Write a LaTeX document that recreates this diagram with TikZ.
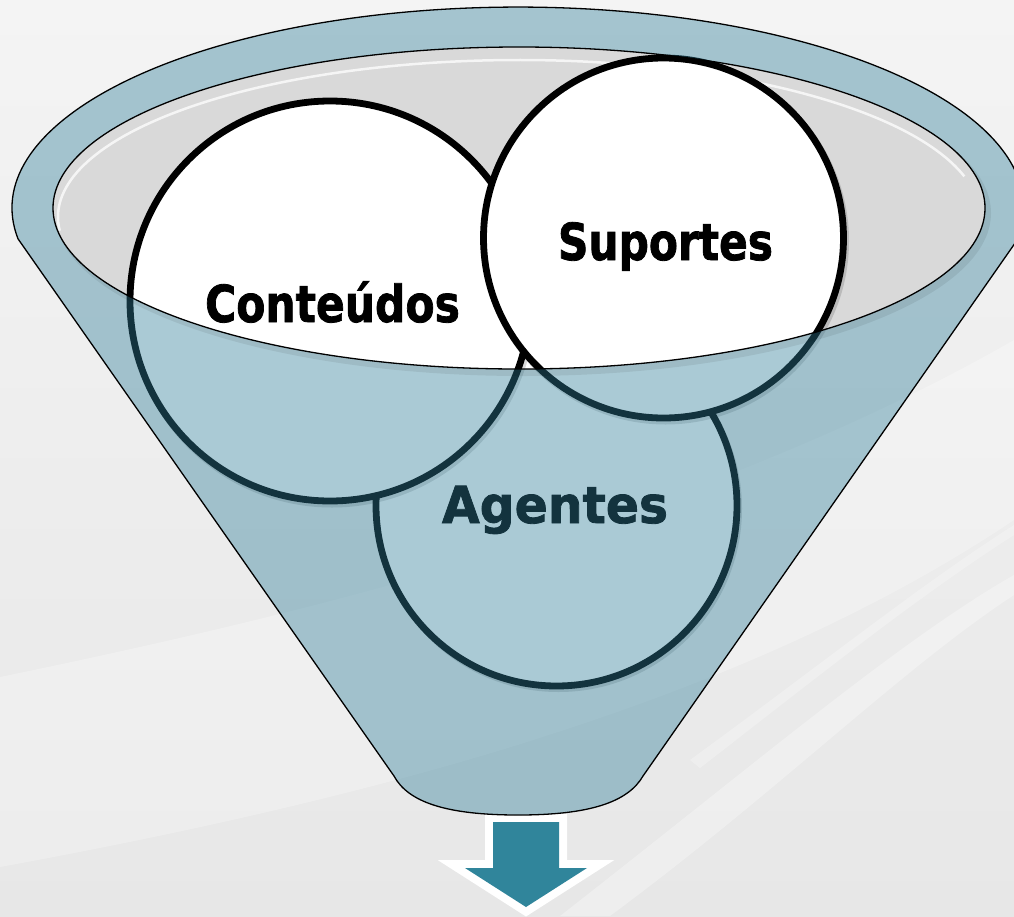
\documentclass[tikz,border=0pt]{standalone}
\usepackage{fontspec}
\usepackage{graphicx}
\newfontfamily\lblfont{DejaVu Sans}[BoldFeatures={FakeBold=1.6}]
\definecolor{funnelc}{RGB}{49,127,154}
\definecolor{arrowc}{RGB}{48,133,155}
\definecolor{innerg}{RGB}{217,217,217}
\definecolor{bgtop}{RGB}{244,244,244}
\definecolor{bgbot}{RGB}{231,231,231}
\tikzset{
  circ/.style={circle, draw=black, line width=6.8pt, fill=white, inner sep=0pt},
  circshadow/.style={draw=black, draw opacity=0.14, line width=7pt},
  lbl/.style={font=\lblfont\bfseries\fontsize{51}{60}\selectfont, anchor=base, inner sep=0pt, text=black},
  thinline/.style={draw=black, line width=1.3pt},
  streak/.style={fill=white, fill opacity=#1},
}
\begin{document}
\begin{tikzpicture}[x=1pt,y=-1pt]
\useasboundingbox (0,0) rectangle (1014,916);
% background
\shade[top color=bgtop, bottom color=bgbot] (0,0) rectangle (1014,916);
\fill[streak=0.25] (0,677) .. controls (300,615) and (700,520) .. (1014,340) -- (1014,520) .. controls (760,690) and (420,790) .. (0,867) -- cycle;
\fill[streak=0.3] (560,916) .. controls (760,760) and (900,640) .. (1014,575) -- (1014,595) .. controls (900,670) and (780,790) .. (610,916) -- cycle;
\fill[streak=0.25] (690,760) .. controls (820,665) and (920,585) .. (1014,525) -- (1014,535) .. controls (920,595) and (820,675) .. (700,768) -- cycle;
% arrow
\path[preaction={draw=white, line width=16pt, line join=miter}, fill=arrowc]
  (493,822) -- (559,822) -- (559,868) -- (587,868) -- (526,907) -- (465,868) -- (493,868) -- cycle;
% inner opening
\fill[innerg] (519,208) ellipse[x radius=466, y radius=161];
\draw[white, draw opacity=0.75, line width=2.5pt] (519,217) ++(175:461 and 157) arc[start angle=175, end angle=345, x radius=461, y radius=157];
% circles
\draw[circshadow] (558.5,508.5) circle[radius=180];
\node[circ, minimum size=361pt] (agen) at (556.5,505.5) {};
\node[lbl] (tagen) at (555,523) {\scalebox{0.957}[1]{Agentes}};
\draw[circshadow] (332,304) circle[radius=200];
\node[circ, minimum size=400pt] (cont) at (330,301) {};
\node[lbl] (tcont) at (332.5,322) {\scalebox{0.833}[1]{Conteúdos}};
\draw[circshadow] (665.5,241) circle[radius=180];
\node[circ, minimum size=360pt] (supo) at (663.5,238) {};
\node[lbl] (tsupo) at (665.5,260) {\scalebox{0.83}[1]{Suportes}};
% funnel body (translucent), ring and front
\fill[funnelc, fill opacity=0.408, even odd rule]
  (18,238.8) arc[start angle=171.2, end angle=368.8, x radius=506, y radius=201]
  -- (643,776) .. controls (628,802) and (590,815) .. (518,815)
  .. controls (446,815) and (408,802) .. (394,776) -- cycle
  (519,208) ellipse[x radius=466, y radius=161];
% soft shadow of the opening on the ring
\begin{scope}[even odd rule]
  \clip (0,0) rectangle (1014,916) (519,208) ellipse[x radius=466, y radius=161];
  \fill[black, fill opacity=0.07] (523,213) ellipse[x radius=468, y radius=163];
\end{scope}
% outlines
\draw[thinline]
  (18,238.8) arc[start angle=171.2, end angle=368.8, x radius=506, y radius=201]
  -- (643,776) .. controls (628,802) and (590,815) .. (518,815)
  .. controls (446,815) and (408,802) .. (394,776) -- cycle;
\draw[thinline] (519,208) ellipse[x radius=466, y radius=161];
\end{tikzpicture}
\end{document}
